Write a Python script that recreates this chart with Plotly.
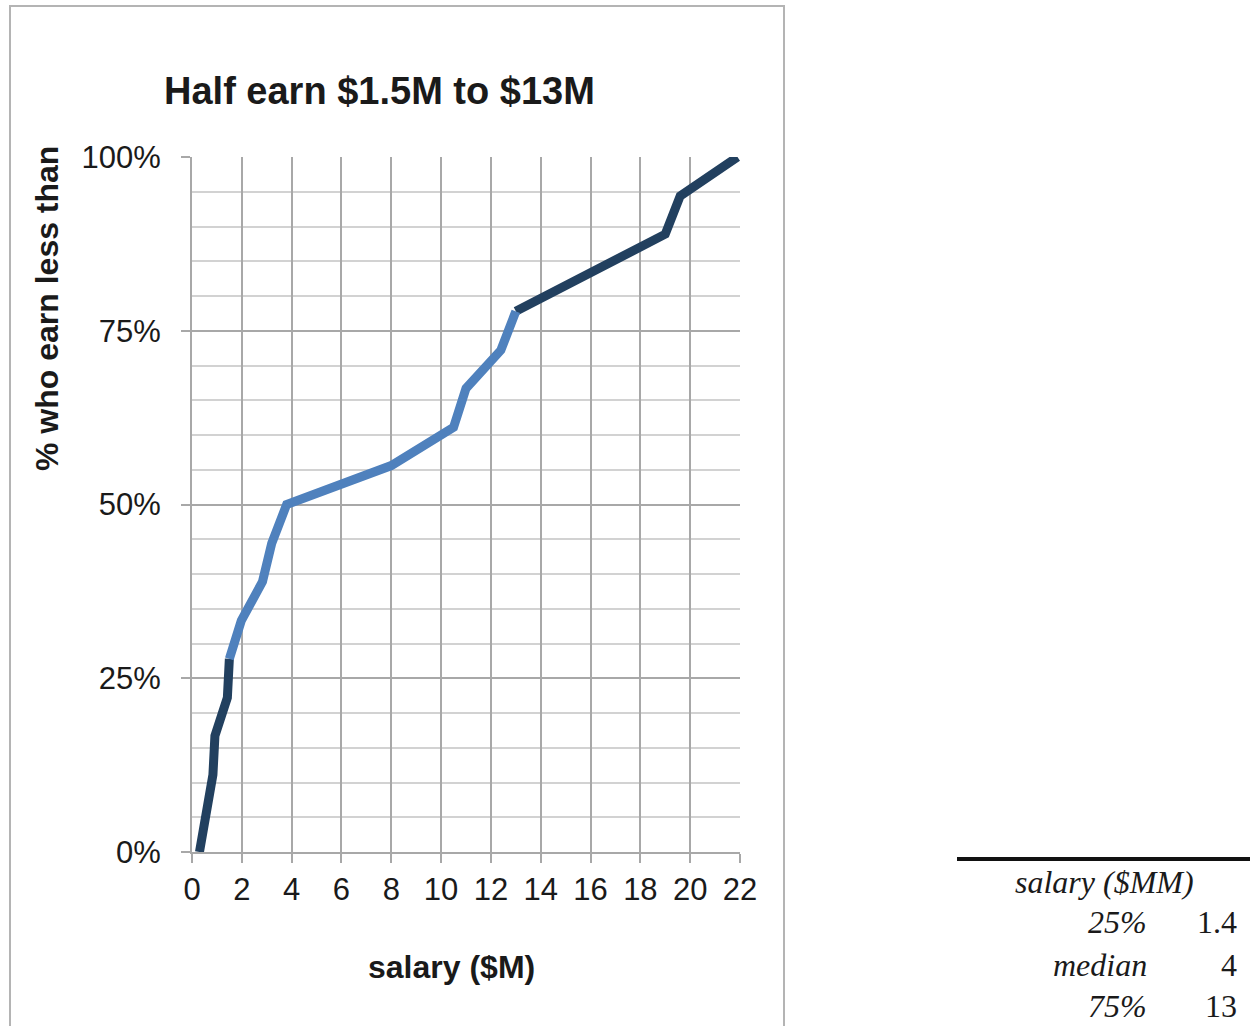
import plotly.graph_objects as go

# Empirical salary distribution: share of players (%) earning less than each salary ($M)
salary = [0.3, 0.57, 0.84, 0.92, 1.42, 1.5, 1.98, 2.83, 3.2, 3.8,
          8.0, 10.5, 11.0, 12.4, 13.0, 16.0, 19.0, 19.6, 21.9]
pct_below = [0, 5.6, 11.1, 16.7, 22.2, 27.8, 33.3, 38.9, 44.4, 50,
             55.6, 61.1, 66.7, 72.2, 77.8, 83.3, 88.9, 94.4, 100]

# Interquartile band drawn in the lighter colour
iqr_start, iqr_end = 5, 14

x_ticks = list(range(0, 23, 2))
y_ticks = [0, 25, 50, 75, 100]
y_tick_text = ["0%", "25%", "50%", "75%", "100%"]

# Summary table
table_header = "salary ($MM)"
table_labels = ["25%", "median", "75%"]
table_values = ["1.4", "4", "13"]

DARK = "#22405F"
LIGHT = "#4F81BD"
GRID_MAJOR = "#A8A8A8"
GRID_MINOR = "#D2D2D2"
TEXT = "#1a1a1a"
SANS = "Liberation Sans, Arial, sans-serif"
SERIF = "Liberation Serif, Times New Roman, serif"

W, H = 1250, 1026
def px_x(p):
    return p / W
def px_y(p):
    return 1 - p / H

fig = go.Figure()

line_w = 9
fig.add_trace(go.Scatter(x=salary[:iqr_start + 1], y=pct_below[:iqr_start + 1],
                         mode="lines", line=dict(color=DARK, width=line_w),
                         hoverinfo="skip", showlegend=False))
fig.add_trace(go.Scatter(x=salary[iqr_end:], y=pct_below[iqr_end:],
                         mode="lines", line=dict(color=DARK, width=line_w),
                         hoverinfo="skip", showlegend=False))
fig.add_trace(go.Scatter(x=salary[iqr_start:iqr_end + 1], y=pct_below[iqr_start:iqr_end + 1],
                         mode="lines", line=dict(color=LIGHT, width=line_w),
                         hoverinfo="skip", showlegend=False))

fig.update_layout(
    width=W, height=H, autosize=False,
    margin=dict(l=0, r=0, t=0, b=0, pad=0),
    paper_bgcolor="white", plot_bgcolor="white",
    font=dict(family=SANS, color=TEXT),
    xaxis=dict(
        domain=[px_x(192), px_x(740)],
        range=[0, 22], tickvals=x_ticks, automargin=False,
        showgrid=True, gridcolor=GRID_MAJOR, gridwidth=2,
        showline=True, linecolor=GRID_MAJOR, linewidth=2,
        ticks="outside", ticklen=9, tickcolor=GRID_MAJOR, tickwidth=2,
        tickfont=dict(size=31, family=SANS, color=TEXT),
        zeroline=False, fixedrange=True,
    ),
    yaxis=dict(
        domain=[px_y(852), px_y(157)],
        range=[0, 100], tickvals=y_ticks, ticktext=y_tick_text, automargin=False,
        showgrid=True, gridcolor=GRID_MAJOR, gridwidth=2,
        minor=dict(dtick=5, showgrid=True, gridcolor=GRID_MINOR, gridwidth=2, ticks=""),
        showline=True, linecolor=GRID_MAJOR, linewidth=2,
        ticks="outside", ticklen=9, tickcolor=GRID_MAJOR, tickwidth=2,
        ticklabelstandoff=14,
        tickfont=dict(size=31, family=SANS, color=TEXT),
        zeroline=False, fixedrange=True,
    ),
)

# Chart frame
fig.add_shape(type="rect", xref="paper", yref="paper",
              x0=px_x(10), x1=px_x(784), y0=px_y(1060), y1=px_y(6),
              line=dict(color="#B4B4B4", width=2), fillcolor="rgba(0,0,0,0)", layer="below")

annotations = [
    dict(text="<b>Half earn $1.5M to $13M</b>", x=px_x(379), y=px_y(91),
         font=dict(size=38, family=SANS, color=TEXT)),
    dict(text="<b>% who earn less than</b>", x=px_x(47), y=px_y(309), textangle=-90,
         font=dict(size=32, family=SANS, color=TEXT)),
    dict(text="<b>salary ($M)</b>", x=px_x(452), y=px_y(967),
         font=dict(size=32, family=SANS, color=TEXT)),
    dict(text="<i>" + table_header + "</i>", x=px_x(1104), y=px_y(882),
         font=dict(size=32, family=SERIF, color=TEXT)),
]
row_y = [922, 965, 1006]
for lab, val, ry in zip(table_labels, table_values, row_y):
    annotations.append(dict(text="<i>" + lab + "</i>", x=px_x(1149), y=px_y(ry), xanchor="right",
                            font=dict(size=32, family=SERIF, color=TEXT)))
    annotations.append(dict(text=val, x=px_x(1239), y=px_y(ry), xanchor="right",
                            font=dict(size=32, family=SERIF, color=TEXT)))
for a in annotations:
    a.setdefault("xanchor", "center")
    a.update(xref="paper", yref="paper", yanchor="middle", showarrow=False)
fig.update_layout(annotations=annotations)

# Rule above the table
fig.add_shape(type="line", xref="paper", yref="paper",
              x0=px_x(957), x1=px_x(1250), y0=px_y(859), y1=px_y(859),
              line=dict(color="#111111", width=4))

fig.write_html("out.html")
